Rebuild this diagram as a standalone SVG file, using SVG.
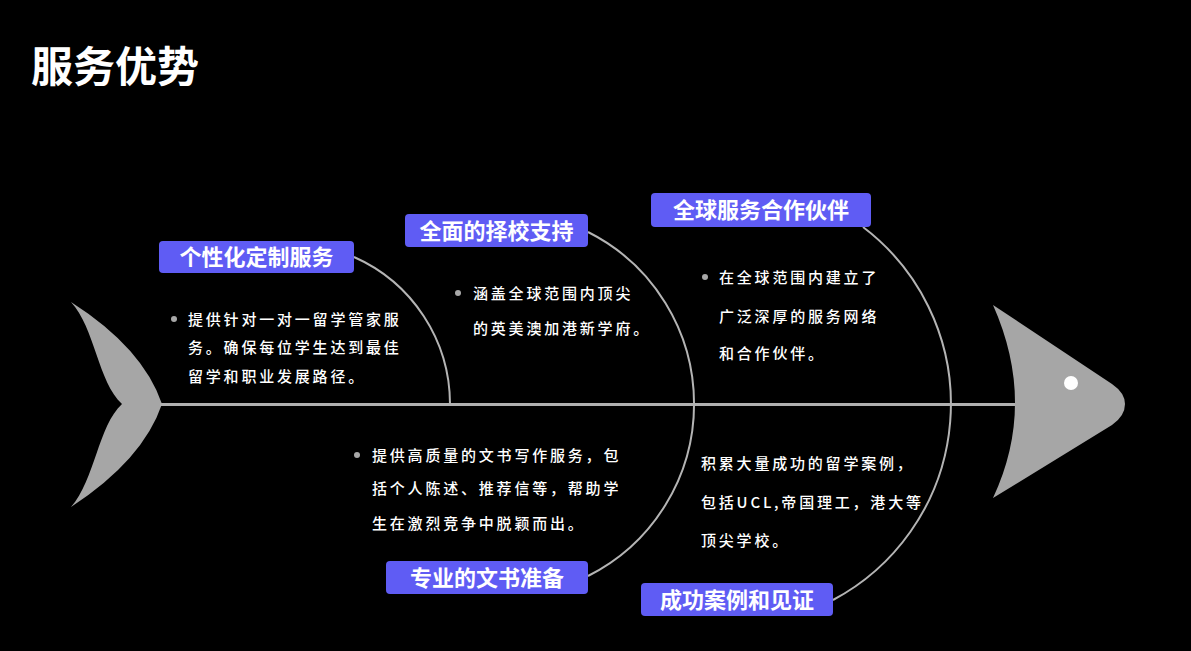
<svg xmlns="http://www.w3.org/2000/svg" width="1191" height="651" viewBox="0 0 1191 651">
<style>
.lbl{fill:#5f5cf4}
.lt{font-family:"Noto Sans CJK SC","Noto Sans",sans-serif;font-size:22px;font-weight:bold;fill:#fff;text-anchor:middle}
.bt{font-family:"Noto Sans CJK SC","Noto Sans",sans-serif;font-size:15px;font-weight:500;fill:#fff;letter-spacing:2.8px}
.arc{fill:none;stroke:#b4b4b4;stroke-width:2}
.dot{fill:#a8a8a8}
.fish{fill:#a6a6a6}
</style>
<rect width="1191" height="651" fill="#000"/>
<text x="31" y="82" font-family="'Noto Sans CJK SC',sans-serif" font-size="42" font-weight="bold" fill="#fff">服务优势</text>
<g id="tail"><path class="fish" d="M71,302 Q143,348 162,404 Q143,460 71,507 C95,480 98,426 122,404 C98,382 95,328 71,302 Z"/></g>
<g id="connectors">
<line x1="160" y1="404.5" x2="1016" y2="404.5" stroke="#b0b0b0" stroke-width="3"/>
<path class="arc" d="M354,257 A161,161 0 0,1 450,404"/>
<path class="arc" d="M588,232 A192.5,192.5 0 0,1 588,576"/>
<path class="arc" d="M863,227 A222,222 0 0,1 833,600"/>
</g>
<g id="head"><path class="fish" d="M993,305 L1112,384 Q1125,393 1125,404 Q1125,416 1112,425 L993,498 Q1037,404 993,305 Z"/><circle cx="1071" cy="383" r="7" fill="#fff"/></g>
<g id="node1">
<rect class="lbl" x="159" y="241" width="195" height="32" rx="4"/>
<text class="lt" x="256.5" y="265">个性化定制服务</text>
<circle class="dot" cx="174" cy="319" r="3"/>
<text class="bt" x="188" y="325">提供针对一对一留学管家服</text>
<text class="bt" x="188" y="353">务。确保每位学生达到最佳</text>
<text class="bt" x="188" y="382">留学和职业发展路径。</text>
</g>
<g id="node2">
<rect class="lbl" x="405" y="214" width="183" height="33" rx="4"/>
<text class="lt" x="496.5" y="238.5">全面的择校支持</text>
<circle class="dot" cx="458" cy="293" r="3"/>
<text class="bt" x="473" y="299">涵盖全球范围内顶尖</text>
<text class="bt" x="473" y="334">的英美澳加港新学府。</text>
</g>
<g id="node3">
<rect class="lbl" x="651" y="193" width="220" height="34" rx="4"/>
<text class="lt" x="761" y="218">全球服务合作伙伴</text>
<circle class="dot" cx="705" cy="277" r="3"/>
<text class="bt" x="719" y="283">在全球范围内建立了</text>
<text class="bt" x="719" y="322">广泛深厚的服务网络</text>
<text class="bt" x="719" y="359">和合作伙伴。</text>
</g>
<g id="node4">
<rect class="lbl" x="386" y="561" width="202" height="33" rx="4"/>
<text class="lt" x="487" y="585.5">专业的文书准备</text>
<circle class="dot" cx="357" cy="455" r="3"/>
<text class="bt" x="372" y="461">提供高质量的文书写作服务，包</text>
<text class="bt" x="372" y="494">括个人陈述、推荐信等，帮助学</text>
<text class="bt" x="372" y="529">生在激烈竞争中脱颖而出。</text>
</g>
<g id="node5">
<rect class="lbl" x="641" y="583" width="192" height="33" rx="4"/>
<text class="lt" x="737" y="607.5">成功案例和见证</text>
<text class="bt" x="701" y="469">积累大量成功的留学案例，</text>
<text class="bt" x="701" y="508">包括UCL,帝国理工，港大等</text>
<text class="bt" x="701" y="546">顶尖学校。</text>
</g>
</svg>
